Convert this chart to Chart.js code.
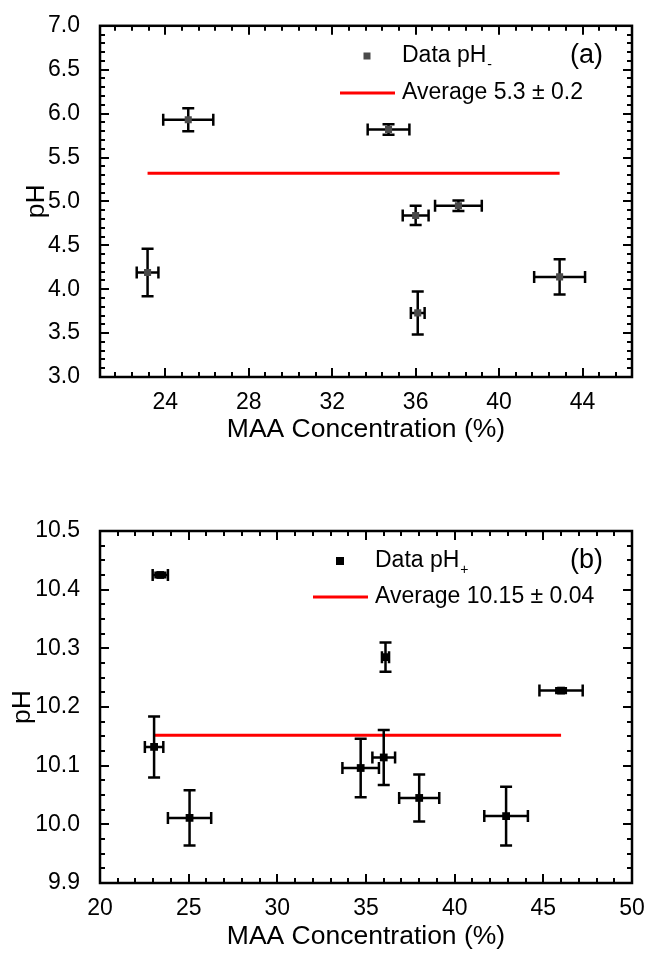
<!DOCTYPE html>
<html>
<head>
<meta charset="utf-8">
<script src="https://cdn.jsdelivr.net/npm/chart.js@4.4.1/dist/chart.umd.min.js"></script>
<style>
  html, body { margin: 0; padding: 0; background: #fff; }
  #wrapA { position: absolute; left: 0; top: 0; width: 651px; height: 470px; }
  #wrapB { position: absolute; left: 0; top: 470px; width: 651px; height: 489px; }
</style>
</head>
<body>
<div id="wrapA"><canvas id="chartA"></canvas></div>
<div id="wrapB"><canvas id="chartB"></canvas></div>
<script>
// panel (a) : pH minus
const maaA = [25.1, 34.7, 36.0, 38.05, 23.15, 36.1, 42.9];
const phA = [5.93, 5.82, 4.84, 4.95, 4.19, 3.73, 4.14];
const maaErrA = [1.2, 1.0, 0.62, 1.12, 0.52, 0.33, 1.22];
const phErrA = [0.13, 0.06, 0.11, 0.06, 0.27, 0.245, 0.2];
const avgA = 5.32;
const xTicksA = [24, 28, 32, 36, 40, 44];
const yTicksA = [3.0, 3.5, 4.0, 4.5, 5.0, 5.5, 6.0, 6.5, 7.0];
const legendA = ['Data pH', '-', 'Average 5.3 \u00b1 0.2', '(a)'];

// panel (b) : pH plus
const maaB = [23.4, 36.1, 46.0, 23.05, 25.05, 34.7, 36.0, 38.0, 42.9];
const phB = [10.425, 10.285, 10.228, 10.132, 10.011, 10.096, 10.114, 10.045, 10.014];
const maaErrB = [0.43, 0.2, 1.22, 0.52, 1.22, 1.03, 0.64, 1.13, 1.23];
const phErrB = [0.004, 0.025, 0.004, 0.052, 0.047, 0.05, 0.047, 0.04, 0.05];
const avgB = 10.152;
const xTicksB = [20, 25, 30, 35, 40, 45, 50];
const yTicksB = [9.9, 10.0, 10.1, 10.2, 10.3, 10.4, 10.5];
const legendB = ['Data pH', '+', 'Average 10.15 \u00b1 0.04', '(b)'];

const fontFam = "'Liberation Sans', Arial, sans-serif";

// error bars drawn just before the points
const errorBars = {
  id: 'errorBars',
  beforeDatasetDraw(chart, args, opts) {
    if (args.index !== 0) return;
    const {ctx, scales: {x, y}} = chart;
    const cap = 6;
    ctx.save();
    ctx.strokeStyle = '#000';
    ctx.lineWidth = 2.5;
    chart.data.datasets[0].data.forEach((p, i) => {
      const px = x.getPixelForValue(p.x), py = y.getPixelForValue(p.y);
      const x1 = x.getPixelForValue(p.x - opts.xErr[i]), x2 = x.getPixelForValue(p.x + opts.xErr[i]);
      const y1 = y.getPixelForValue(p.y - opts.yErr[i]), y2 = y.getPixelForValue(p.y + opts.yErr[i]);
      ctx.beginPath();
      ctx.moveTo(x1, py); ctx.lineTo(x2, py);
      ctx.moveTo(x1, py - cap); ctx.lineTo(x1, py + cap);
      ctx.moveTo(x2, py - cap); ctx.lineTo(x2, py + cap);
      ctx.moveTo(px, y1); ctx.lineTo(px, y2);
      ctx.moveTo(px - cap, y1); ctx.lineTo(px + cap, y1);
      ctx.moveTo(px - cap, y2); ctx.lineTo(px + cap, y2);
      ctx.stroke();
    });
    ctx.restore();
  }
};

// Origin style box with inward ticks on all four sides
const frameTicks = {
  id: 'frameTicks',
  afterDraw(chart, args, opts) {
    const {ctx, chartArea: a, scales: {x, y}} = chart;
    ctx.save();
    ctx.strokeStyle = '#000';
    ctx.lineWidth = 2;
    ctx.beginPath();
    const tickX = (v, len) => {
      const px = Math.round(x.getPixelForValue(v));
      ctx.moveTo(px, a.bottom); ctx.lineTo(px, a.bottom - len);
      ctx.moveTo(px, a.top); ctx.lineTo(px, a.top + len);
    };
    const tickY = (v, len) => {
      const py = Math.round(y.getPixelForValue(v));
      ctx.moveTo(a.left, py); ctx.lineTo(a.left + len, py);
      ctx.moveTo(a.right, py); ctx.lineTo(a.right - len, py);
    };
    // minor ticks
    const start = opts.xMajor[0];
    for (let k = -20; k < 200; k++) {
      const v = start + k * opts.xMinor;
      if (v > x.min + 1e-6 && v < x.max - 1e-6) tickX(v, 5);
    }
    const ystart = opts.yMajor[0];
    for (let k = -20; k < 200; k++) {
      const v = ystart + k * opts.yMinor;
      if (v > y.min + 1e-6 && v < y.max - 1e-6) tickY(v, 5);
    }
    opts.xMajor.forEach(v => tickX(v, 9));
    opts.yMajor.forEach(v => tickY(v, 9));
    ctx.stroke();
    ctx.lineWidth = 2.5;
    ctx.strokeRect(a.left, a.top, a.right - a.left, a.bottom - a.top);
    ctx.restore();
  }
};

// legend box inside the plot + panel letter
const panelLegend = {
  id: 'panelLegend',
  afterDraw(chart, args, opts) {
    const ctx = chart.ctx;
    const ds = chart.data.datasets;
    ctx.save();
    ctx.fillStyle = ds[0].backgroundColor;
    const s = opts.marker;
    ctx.fillRect(opts.markerX - s / 2, opts.row1 - s / 2, s, s);
    ctx.strokeStyle = ds[1].borderColor;
    ctx.lineWidth = 3;
    ctx.beginPath();
    ctx.moveTo(opts.lineFrom, opts.row2);
    ctx.lineTo(opts.lineTo, opts.row2);
    ctx.stroke();

    ctx.fillStyle = '#000';
    ctx.textBaseline = 'middle';
    ctx.textAlign = 'left';
    ctx.font = '23px ' + fontFam;
    ctx.fillText(opts.text[0], opts.textX, opts.row1);
    const w = ctx.measureText(opts.text[0]).width;
    ctx.font = '14px ' + fontFam;
    ctx.fillText(opts.text[1], opts.textX + w + 1, opts.row1 + 9);
    ctx.font = '23px ' + fontFam;
    ctx.fillText(opts.text[2], opts.textX, opts.row2);
    ctx.font = '27px ' + fontFam;
    ctx.textAlign = 'right';
    ctx.fillText(opts.text[3], opts.labelX, opts.row1);
    ctx.restore();
  }
};

function buildChart(id, p) {
  const points = p.x.map((v, i) => ({x: v, y: p.y[i]}));
  const lineX = [Math.min(...p.x), Math.max(...p.x)];
  return new Chart(document.getElementById(id), {
    type: 'scatter',
    data: {
      datasets: [
        {
          label: p.text[0] + p.text[1],
          data: points,
          pointStyle: 'rect',
          pointRadius: p.radius,
          backgroundColor: p.color,
          borderColor: p.color,
          borderWidth: 0
        },
        {
          label: p.text[2],
          data: lineX.map(v => ({x: v, y: p.avg})),
          showLine: true,
          borderColor: '#ff0000',
          borderWidth: 3,
          pointRadius: 0
        }
      ]
    },
    options: {
      responsive: true,
      maintainAspectRatio: false,
      animation: false,
      devicePixelRatio: 1,
      layout: { padding: { top: p.top, right: 19, left: 0, bottom: 0 } },
      scales: {
        x: {
          type: 'linear',
          min: p.xMin, max: p.xMax,
          grid: { display: false },
          border: { display: false },
          afterBuildTicks: s => { s.ticks = p.xTicks.map(v => ({value: v})); },
          afterFit: s => { s.height = p.xHeight; },
          ticks: {
            color: '#000', padding: 4,
            font: { family: fontFam, size: 23 },
            callback: v => String(v)
          },
          title: {
            display: true, text: 'MAA Concentration (%)', color: '#000',
            font: { family: fontFam, size: 26.5 },
            padding: { top: 0, bottom: p.xTitlePad }
          }
        },
        y: {
          type: 'linear',
          min: p.yMin, max: p.yMax,
          grid: { display: false },
          border: { display: false },
          afterBuildTicks: s => { s.ticks = p.yTicks.map(v => ({value: v})); },
          afterFit: s => { s.width = 100; },
          ticks: {
            color: '#000', padding: 12,
            font: { family: fontFam, size: 23 },
            callback: v => v.toFixed(1)
          },
          title: {
            display: true, text: 'pH', color: '#000',
            font: { family: fontFam, size: 26.5 },
            padding: { top: p.yTitlePad, bottom: 0 }
          }
        }
      },
      plugins: {
        legend: { display: false },
        tooltip: { enabled: false },
        errorBars: { xErr: p.xErr, yErr: p.yErr },
        frameTicks: { xMajor: p.xTicks, yMajor: p.yTicks, xMinor: p.xMinor, yMinor: p.yMinor },
        panelLegend: p.legend
      }
    },
    plugins: [errorBars, frameTicks, panelLegend]
  });
}

buildChart('chartA', {
  x: maaA, y: phA, xErr: maaErrA, yErr: phErrA, avg: avgA, text: legendA,
  color: '#4a4a4a', radius: 5,
  xMin: 20.87, xMax: 46.37, yMin: 3, yMax: 7,
  xTicks: xTicksA, yTicks: yTicksA, xMinor: 0.8, yMinor: 0.1,
  top: 24, xHeight: 93, xTitlePad: 24, yTitlePad: 21,
  legend: { text: legendA, marker: 7, markerX: 367, row1: 56, row2: 93,
            textX: 402, lineFrom: 340, lineTo: 395, labelX: 603 }
});

buildChart('chartB', {
  x: maaB, y: phB, xErr: maaErrB, yErr: phErrB, avg: avgB, text: legendB,
  color: '#000', radius: 5.5,
  xMin: 20, xMax: 50, yMin: 9.9, yMax: 10.5,
  xTicks: xTicksB, yTicks: yTicksB, xMinor: 1, yMinor: 0.025,
  top: 61, xHeight: 76, xTitlePad: 6, yTitlePad: 7,
  legend: { text: legendB, marker: 8, markerX: 340, row1: 91, row2: 127,
            textX: 375, lineFrom: 313, lineTo: 368, labelX: 603 }
});
</script>
</body>
</html>
